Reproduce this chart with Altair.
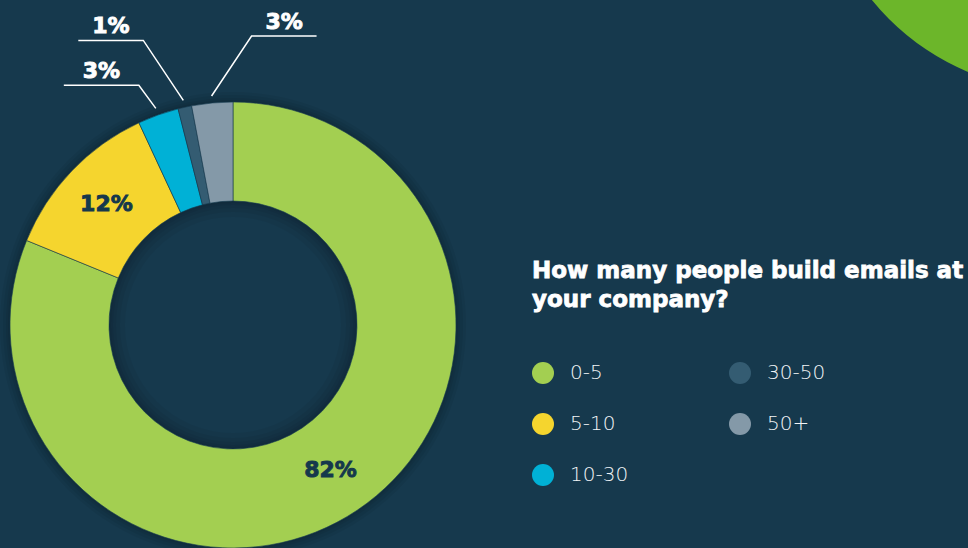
import math
import altair as alt
import pandas as pd

# ---- data ----
categories = ["0-5", "5-10", "10-30", "30-50", "50+"]
shares = [82, 12, 3, 1, 3]
label_texts = ["82%", "12%", "3%", "1%", "3%"]
slice_colors = ["#a3cf51", "#f5d52e", "#00b1d6", "#345c72", "#8499a8"]
title_lines = ["How many people build emails at", "your company?"]

# ---- layout / style ----
BG = "#16394d"
CX, CY = 233, 325
R_OUT, R_IN = 223, 124
R_LABEL = 175
R_LEADER = 230
FONT_BOLD = "DejaVu Sans"
# leader: elbow offset (dx, dy) from slice edge point, horizontal run length
leader_layout = {"10-30": (-17, -23, -75), "30-50": (-40, -60, -65), "50+": (40, -60, 65)}

df = pd.DataFrame({"category": categories, "share": shares, "order": list(range(len(categories))),
                   "label": label_texts})

# outside labels & leader lines computed from the slice angles
total = sum(shares)
cum = 0
line_rows, out_rows = [], []
for cat, s, lab in zip(categories, shares, label_texts):
    mid = (cum + s / 2) / total * 2 * math.pi
    cum += s
    if cat not in leader_layout:
        continue
    dx, dy, run = leader_layout[cat]
    x0 = CX + R_LEADER * math.sin(mid)
    y0 = CY - R_LEADER * math.cos(mid)
    x1, y1 = x0 + dx, y0 + dy
    x2 = x1 + run
    for i, (px, py) in enumerate([(x0, y0), (x1, y1), (x2, y1)]):
        line_rows.append({"category": cat, "step": i, "px": px, "py": py})
    out_rows.append({"category": cat, "label": lab, "px": (x1 + x2) / 2, "py": y1 - 7})
lines_df = pd.DataFrame(line_rows)
out_df = pd.DataFrame(out_rows)

one = pd.DataFrame({"k": [0]})

# decorative circle top-right
deco = alt.Chart(one).mark_arc(outerRadius=246, theta=0, theta2=2 * math.pi, color="#6cb62a").encode(
    x=alt.value(1063), y=alt.value(-155))

# soft shadows around the ring
shadows = []
for s in [2, 4, 7, 10]:
    shadows.append(alt.Chart(one).mark_arc(innerRadius=R_OUT, outerRadius=R_OUT + s, theta=0,
                                           theta2=2 * math.pi, color="black", opacity=0.05).encode(
        x=alt.value(CX), y=alt.value(CY)))
for s in [2, 4, 7, 11, 16]:
    shadows.append(alt.Chart(one).mark_arc(innerRadius=R_IN - s, outerRadius=R_IN, theta=0,
                                           theta2=2 * math.pi, color="black", opacity=0.045).encode(
        x=alt.value(CX), y=alt.value(CY)))

base = alt.Chart(df).encode(
    theta=alt.Theta("share:Q", stack=True),
    order=alt.Order("order:Q"),
)

arcs = base.mark_arc(innerRadius=R_IN, outerRadius=R_OUT, stroke=BG, strokeWidth=0.6).encode(
    x=alt.value(CX), y=alt.value(CY),
    color=alt.Color("category:N",
                    scale=alt.Scale(domain=categories, range=slice_colors),
                    legend=alt.Legend(title=None, orient="none", legendX=532, legendY=362, columns=2,
                                      symbolType="circle", symbolSize=484, symbolStrokeWidth=0,
                                      labelFontSize=20, labelFont="DejaVu Sans", labelFontWeight=200,
                                      labelColor="#f2f5f7", labelOffset=16, rowPadding=29,
                                      columnPadding=100, padding=0, offset=0)),
)

inner_labels = base.transform_calculate(
    inlabel="datum.share >= 10 ? datum.label : ''"
).mark_text(radius=R_LABEL, font=FONT_BOLD, fontWeight="bold", fontSize=22, color="#15384c",
            stroke="#15384c", strokeWidth=0.9,
            align="center", baseline="middle").encode(
    x=alt.value(CX), y=alt.value(CY), text="inlabel:N")

leaders = alt.Chart(lines_df).mark_line(color="white", strokeWidth=1.5).encode(
    x=alt.X("px:Q", scale=None, axis=None),
    y=alt.Y("py:Q", scale=None, axis=None),
    detail="category:N",
    order="step:Q",
)

out_labels = alt.Chart(out_df).mark_text(font=FONT_BOLD, fontWeight="bold", fontSize=22, color="white",
                                         stroke="white", strokeWidth=0.9,
                                         align="center", baseline="alphabetic").encode(
    x=alt.X("px:Q", scale=None, axis=None),
    y=alt.Y("py:Q", scale=None, axis=None),
    text="label:N",
)

title = alt.Chart(one).mark_text(text=title_lines, font=FONT_BOLD, fontWeight="bold", fontSize=23,
                                 color="white", stroke="white", strokeWidth=0.8,
                                 align="left", baseline="alphabetic",
                                 lineHeight=29).encode(x=alt.value(532), y=alt.value(278))

chart = alt.layer(deco, *shadows, arcs, inner_labels, leaders, out_labels, title).properties(
    width=968, height=548, background=BG, padding=0, autosize="none"
).configure_view(strokeWidth=0)

chart.save("out.html", embed_options={"renderer": "svg", "actions": False})
